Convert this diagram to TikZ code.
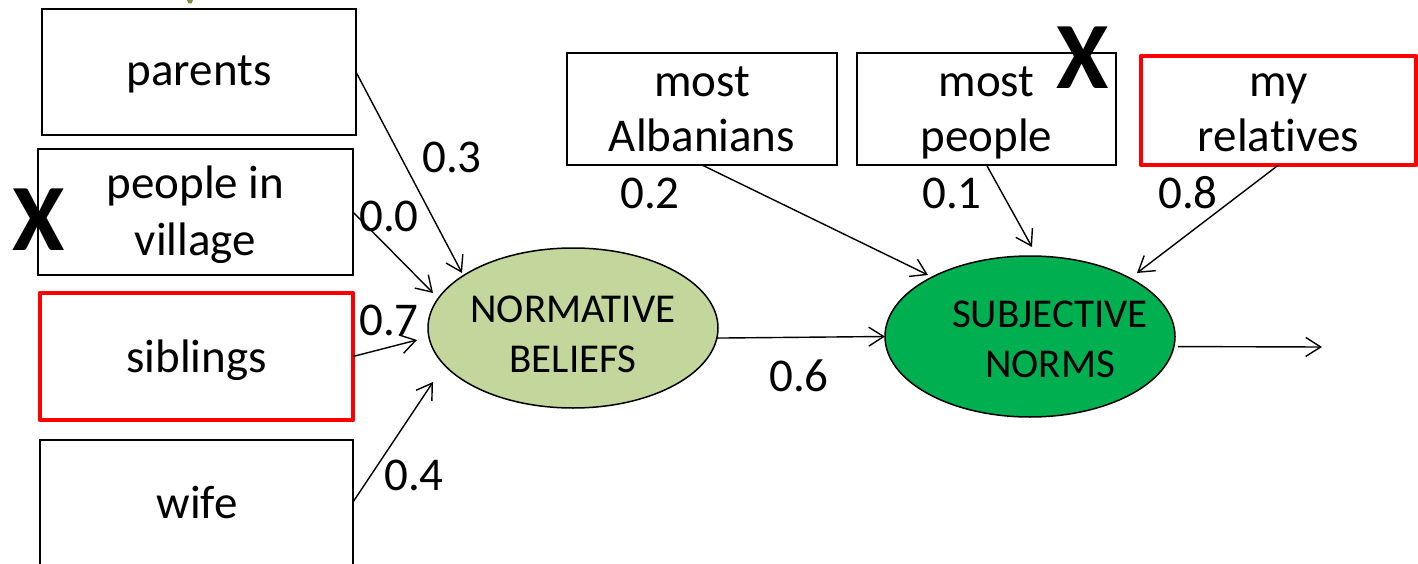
\documentclass[tikz,border=0pt]{standalone}
\usepackage{fontspec}
\setmainfont{Carlito}[Ligatures=NoCommon]
\usetikzlibrary{arrows.meta,shapes.geometric}
\definecolor{nbfill}{HTML}{C3D69B}
\definecolor{snfill}{HTML}{00B050}
\definecolor{hlred}{HTML}{FF0000}
\definecolor{olivemark}{HTML}{77933C}
\newcommand\boxfont{\fontsize{47}{57}\selectfont}
\newcommand\topfont{\fontsize{47}{55}\selectfont}
\newcommand\ellfont{\fontsize{41}{50}\selectfont}
\newcommand\bigx{\fontsize{95}{95}\selectfont\bfseries}
\newcommand\twoline[2]{\begin{tabular}[b]{@{}c@{}}#1\\#2\end{tabular}}
\begin{document}
\begin{tikzpicture}[x=1pt,y=-1pt,
  box/.style={draw, line width=2.2pt, inner sep=0pt, outer sep=0pt},
  redbox/.style={draw=hlred, line width=4.5pt, line join=round, inner sep=0pt, outer sep=0pt},
  txt/.style={anchor=base, inner sep=0pt, outer sep=0pt, font=\boxfont},
  toptxt/.style={txt, font=\topfont},
  elltxt/.style={txt, font=\ellfont},
  num/.style={txt},
  xmark/.style={anchor=base, inner sep=0pt, outer sep=0pt, font=\bigx},
  latent/.style={ellipse, draw, line width=1.5pt, inner sep=0pt, outer sep=0pt},
  arr/.style={line width=1.4pt, -{Straight Barb[length=15pt,width=19pt]}}
]
\useasboundingbox (0,0) rectangle (1418,564);
\fill[white] (0,0) rectangle (1418,564);
% small cropped green fragment at top
\fill[olivemark] (187,0) -- (193,0) -- (191.5,3.5) -- (188.5,3.5) -- cycle;

% left boxes
\node[box, minimum width=314pt, minimum height=126pt] (parents) at (199,72) {};
\node[box, minimum width=315pt, minimum height=126pt] (village) at (195.5,212) {};
\node[redbox, minimum width=313pt, minimum height=127pt] (siblings) at (196.5,356.5) {};
\node[box, minimum width=313pt, minimum height=160pt] (wife) at (196.5,520) {};

% top boxes
\node[box, minimum width=270pt, minimum height=112pt] (alb) at (702,109) {};
\node[box, minimum width=259pt, minimum height=112pt] (people) at (986.5,109) {};
\node[redbox, minimum width=275pt, minimum height=109pt] (rel) at (1278.5,110.5) {};

% latent variables
\node[latent, fill=nbfill, minimum width=290pt, minimum height=160pt] (nb) at (573,328) {};
\node[latent, fill=snfill, minimum width=290pt, minimum height=161pt] (sn) at (1030,336.5) {};

% box texts
\node[txt] (parentsT) at (199,85.5) {parents};
\node[txt] (villageT) at (195.5,255) {\twoline{people in}{village}};
\node[txt] (siblingsT) at (196.5,372.5) {siblings};
\node[txt] (wifeT) at (197,518) {wife};
\node[toptxt] (albT) at (702,152) {\twoline{most}{Albanians}};
\node[toptxt] (peopleT) at (986.5,152) {\twoline{most}{people}};
\node[toptxt] (relT) at (1278.5,152) {\twoline{my}{relatives}};
\node[elltxt] (nbT) at (573,372) {\twoline{NORMATIVE}{BELIEFS}};
\node[elltxt] (snT) at (1050,377) {\twoline{SUBJECTIVE}{NORMS}};

% crosses
\node[xmark] (xleft) at (38.5,250) {X};
\node[xmark] (xright) at (1082.5,89) {X};

% arrow end points
\coordinate (tp1) at (462,273);
\coordinate (tp2) at (433,293);
\coordinate (tp3) at (417,340);
\coordinate (tp4) at (433,382);
\coordinate (ts1) at (928,275);
\coordinate (ts2) at (1032,247);
\coordinate (ts3) at (1137,273);
\coordinate (outend) at (1322,347);

% connectors
\draw[arr] (parents.east) -- (tp1);
\draw[arr] (village.east) -- (tp2);
\draw[arr] (siblings.east) -- (tp3);
\draw[arr] ([yshift=18pt]wife.east) -- (tp4);
\draw[arr] (alb.south) -- (ts1);
\draw[arr] (people.south) -- (ts2);
\draw[arr] (rel.south) -- (ts3);
\draw[arr] (nb.-4.4) -- (sn.west);
\draw[arr] ([xshift=4pt]sn.-4.2) -- (outend);

% coefficients
\node[num] (c03) at (452,173) {0.3};
\node[num] (c00) at (389,231.5) {0.0};
\node[num] (c07) at (389,335) {0.7};
\node[num] (c04) at (414,490.5) {0.4};
\node[num] (c02) at (650,208) {0.2};
\node[num] (c01) at (952,208) {0.1};
\node[num] (c08) at (1188,208) {0.8};
\node[num] (c06) at (799,391.5) {0.6};
\end{tikzpicture}
\end{document}
